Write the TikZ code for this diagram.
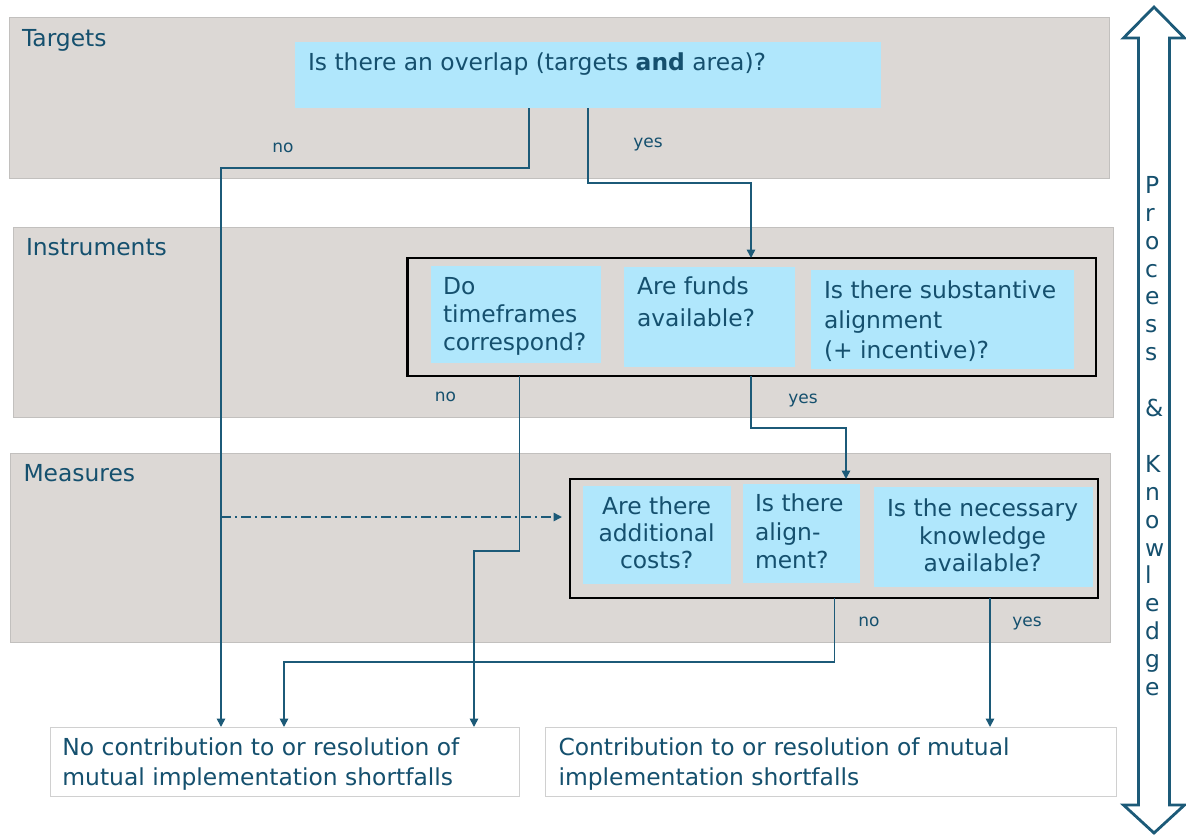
\documentclass[tikz,border=0pt]{standalone}
\usepackage{fontspec}
\setmainfont{DejaVu Sans}
\usetikzlibrary{arrows.meta,calc,fit}

\definecolor{ink}{HTML}{15506E}
\definecolor{wire}{HTML}{1C5A78}
\definecolor{bandgray}{HTML}{DCD8D5}
\definecolor{bandline}{HTML}{C2C0BE}
\definecolor{qblue}{HTML}{B0E7FC}
\definecolor{outline}{HTML}{D0D0D0}

% stacked lines with a fixed baseline distance; the box baseline is the first line
\newcommand\stackL[2]{\vtop{\baselineskip=#1\lineskiplimit=-20pt\relax\halign{##\hfil\cr#2\crcr}}}
\newcommand\stackC[2]{\vtop{\baselineskip=#1\lineskiplimit=-20pt\relax\halign{\hfil##\hfil\cr#2\crcr}}}

\begin{document}
\begin{tikzpicture}[x=1pt,y=-1pt,
  every node/.style={outer sep=0pt},
  band/.style={draw=bandline, line width=0.8pt, fill=bandgray, inner sep=0pt},
  qbox/.style={fill=qblue, inner sep=0pt},
  group/.style={draw=black, line width=2.8pt, inner sep=0pt},
  result/.style={draw=outline, line width=1pt, fill=white, inner sep=0pt},
  txt/.style={inner sep=0pt, text=ink, font=\fontsize{23.4}{28}\selectfont},
  ttl/.style={txt, anchor=base west},
  tag/.style={inner sep=0pt, text=ink, font=\fontsize{17}{20}\selectfont},
  conn/.style={draw=wire, line width=1.6pt, -{Triangle[length=8.5pt,width=8.5pt]}},
  dashconn/.style={draw=wire, line width=1.6pt, dash pattern=on 10pt off 4pt on 2pt off 4pt,
                   -{Triangle[length=8.5pt,width=8.5pt]}},
]
\useasboundingbox (0,0) rectangle (1186,836);

% horizontal bands
\node[band, fit={(9,17) (1109,178)}] (b1) {};
\node[band, fit={(13,227) (1113,417)}] (b2) {};
\node[band, fit={(10,453) (1110,642)}] (b3) {};
\node[ttl] (t1) at (22,46) {Targets};
\node[ttl] (t2) at (26,255) {Instruments};
\node[ttl] (t3) at (23.5,481) {Measures};

% question boxes
\node[qbox, fit={(295,42) (881,108)}] (q0) {};
\node[ttl] (q0t) at (308,70.7) {Is there an overlap (targets \textbf{and} area)?};

\node[qbox, fit={(430.5,266) (601,363)}] (i1) {};
\node[qbox, fit={(624,267) (794.5,367)}] (i2) {};
\node[qbox, fit={(811,270) (1074,369)}] (i3) {};
\node[group, fit={(407.6,258) (1096,376)}] (g1) {};
\node[ttl] (i1t) at (443,294) {\stackL{28pt}{Do\cr timeframes\cr correspond?}};
\node[ttl] (i2t) at (637,294) {\stackL{32pt}{Are funds\cr available?}};
\node[ttl] (i3t) at (824,298) {\stackL{30pt}{Is there substantive\cr alignment\cr (+ incentive)?}};

\node[qbox, fit={(583,486) (730.5,584)}] (m1) {};
\node[qbox, fit={(742.5,484) (860,583)}] (m2) {};
\node[qbox, fit={(873.5,487) (1093,587)}] (m3) {};
\node[group, fit={(570,479) (1098,598)}] (g2) {};
\node[txt, anchor=base] (m1t) at (656.6,514) {\stackC{27.2pt}{Are there\cr additional\cr costs?}};
\node[ttl] (m2t) at (755,511.7) {\stackL{28.3pt}{Is there\cr align-\cr ment?}};
\node[txt, anchor=base] (m3t) at (982.6,516.7) {\stackC{27.5pt}{Is the necessary\cr knowledge\cr available?}};

% outcomes
\node[result, fit={(50,727) (519,796)}] (r0) {};
\node[result, fit={(545,727) (1116,796)}] (r1) {};
\node[ttl] (r0t) at (62.4,755) {\stackL{30pt}{No contribution to or resolution of\cr mutual implementation shortfalls}};
\node[ttl] (r1t) at (558.5,755) {\stackL{30pt}{Contribution to or resolution of mutual\cr implementation shortfalls}};

% connectors
\draw[conn] ($(q0.south west)+(234,0)$) -- ++(0,60) -| ($(r0.north west)+(171,0)$);
\draw[conn] ($(q0.south west)+(293,0)$) -- ++(0,75) -| ($(g1.north west)+(343.4,0)$);
\draw[conn] ($(g1.south west)+(112,0)$) -- ++(0,175) -| ($(r0.north west)+(424,0)$);
\draw[conn] ($(g1.south west)+(343.4,0)$) -- ++(0,52) -| ($(g2.north west)+(276,0)$);
\coordinate (dd) at (221,517);
\draw[dashconn] (dd) -- ($(g2.north west)+(-8,38)$);
\draw[conn] ($(g2.south west)+(264.6,0)$) -- ++(0,64) -| ($(r0.north west)+(234,0)$);
\draw[conn] ($(g2.south west)+(420,0)$) -- ($(r1.north west)+(445,0)$);

% branch labels
\node[tag] (l1) at (283,148) {no};
\node[tag] (l2) at (648,145) {yes};
\node[tag] (l3) at (445.5,397) {no};
\node[tag] (l4) at (803,400) {yes};
\node[tag] (l5) at (869,622) {no};
\node[tag] (l6) at (1027,623) {yes};

% double-headed side arrow
\draw[wire, line width=2.8pt, fill=white, line join=miter]
  (1154,7) -- (1184.5,38) -- (1169.5,38) -- (1169.5,805) -- (1184.5,805) -- (1154,833)
  -- (1123.5,805) -- (1138.5,805) -- (1138.5,38) -- (1123.5,38) -- cycle;
\node[ttl] (side) at (1145,193.3) {\stackL{27.9pt}{P\cr r\cr o\cr c\cr e\cr s\cr s\cr \cr \&\cr \cr K\cr n\cr o\cr w\cr l\cr e\cr d\cr g\cr e}};
\end{tikzpicture}
\end{document}
